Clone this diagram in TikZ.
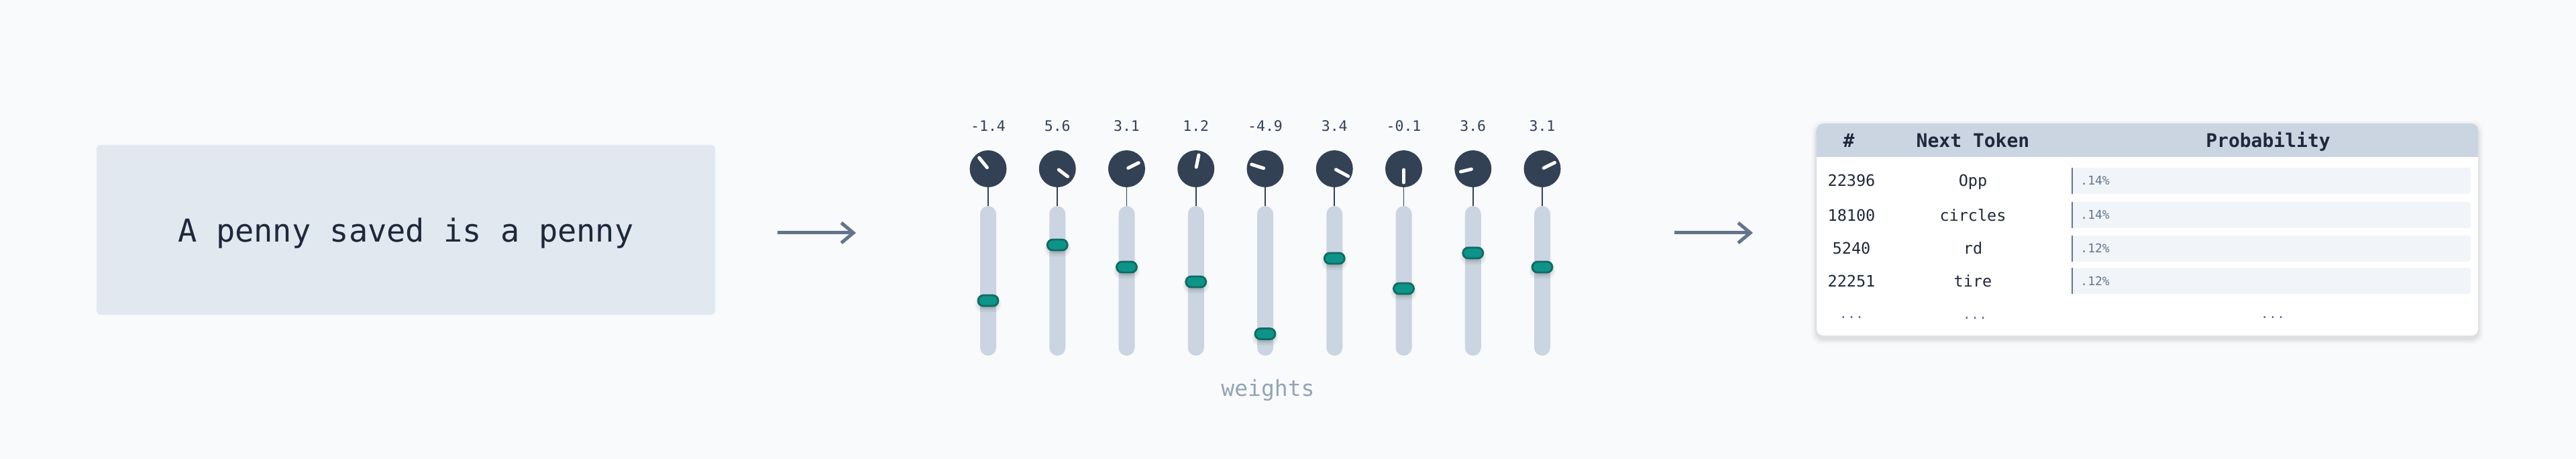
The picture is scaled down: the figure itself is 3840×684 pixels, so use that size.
\documentclass[tikz,border=0pt]{standalone}
\usepackage{fontspec}
\setmonofont{DejaVu Sans Mono}
\usetikzlibrary{arrows.meta}
\definecolor{bgc}{HTML}{F8FAFC}
\definecolor{boxc}{HTML}{E2E8F0}
\definecolor{knobc}{HTML}{334155}
\definecolor{trackc}{HTML}{CBD5E1}
\definecolor{tealc}{HTML}{0D9488}
\definecolor{tealdark}{HTML}{0F6B63}
\definecolor{arrowc}{HTML}{64748B}
\definecolor{inkc}{HTML}{1E293B}
\definecolor{mutedc}{HTML}{94A3B8}
\definecolor{barc}{HTML}{F1F5F9}
\newcommand\myfs[1]{\fontsize{#1}{#1}\selectfont}
\tikzset{
  txt/.style={inner sep=0pt, anchor=base, font=\ttfamily},
  inputbox/.style={fill=boxc, rounded corners=2.5pt, minimum width=461pt, minimum height=126.5pt, inner sep=0pt},
  knob/.style={circle, fill=knobc, minimum size=27.5pt, inner sep=0pt},
  track/.style={fill=trackc, rounded corners=6pt, minimum width=12pt, minimum height=111.5pt, inner sep=0pt},
  handle/.style={fill=tealc, draw=tealdark, line width=1.4pt, rounded corners=4pt, minimum width=15pt, minimum height=8pt, inner sep=0pt},
  tick/.style={white, line width=2.5pt, line cap=round},
  stem/.style={knobc, line width=0.8pt},
  flow/.style={arrowc, line width=2.5pt, -{Straight Barb[length=9pt,width=15pt]}},
  bar/.style={fill=barc, rounded corners=2pt, minimum width=297pt, minimum height=19.5pt, inner sep=0pt, anchor=west},
  barline/.style={arrowc, line width=0.6pt},
  tablebox/.style={fill=white, rounded corners=5pt, minimum width=493pt, minimum height=158pt, inner sep=0pt},
}
\begin{document}
\begin{tikzpicture}[x=0.5pt,y=-0.5pt]
\useasboundingbox (0,0) rectangle (3840,684);
\fill[bgc] (0,0) rectangle (3840,684);

% input box
\node[inputbox] (input) at (605,342.5) {};
\node[txt, text=inkc, font=\ttfamily\myfs{23.5pt}] (inputtext) at (605,360) {A penny saved is a penny};

% arrows
\coordinate (a1s) at (1159,347);
\coordinate (a1e) at (1276,347);
\draw[flow] (a1s) -- (a1e);
\coordinate (a2s) at (2496,347);
\coordinate (a2e) at (2613,347);
\draw[flow] (a2s) -- (a2e);

% sliders
\foreach \i/\v/\hy/\sx/\sy/\ex/\ey in {
  0/-1.4/448/-1.6/-1.9/-13.4/-16.4,
  1/5.6/365/2/1.5/15.3/11.5,
  2/3.1/398/2.2/-1.1/17.8/-8.9,
  3/1.2/420/0.5/-2.5/4.2/-20.5,
  4/-4.9/497.5/-2.4/-0.8/-20.3/-6.5,
  5/3.4/385/2.2/1.2/20.5/11.1,
  6/-0.1/430/0/1.5/0/20.5,
  7/3.6/377/-2.4/0.6/-18.3/4.4,
  8/3.1/398/2.2/-1.1/18.5/-9.2}{
  \pgfmathsetmacro{\kx}{1473+103.25*\i}
  \node[txt, text=knobc, font=\ttfamily\myfs{10.75pt}] (lab\i) at (\kx,196) {\v};
  \node[knob] (knob\i) at (\kx,251.5) {};
  \draw[tick] ([shift={(\sx,\sy)}]knob\i.center) -- ([shift={(\ex,\ey)}]knob\i.center);
  \node[track] (track\i) at (\kx,418.5) {};
  \draw[stem] (knob\i.south) -- (track\i.north);
  \fill[black, opacity=0.05, rounded corners=5pt] (\kx-19,\hy-6) rectangle (\kx+19,\hy+17);
  \fill[black, opacity=0.06, rounded corners=5pt] (\kx-17,\hy-4) rectangle (\kx+17,\hy+14);
  \fill[black, opacity=0.07, rounded corners=5pt] (\kx-15,\hy-2) rectangle (\kx+15,\hy+12);
  \node[handle] (handle\i) at (\kx,\hy) {};
}
\node[txt, text=mutedc, font=\ttfamily\myfs{16.5pt}] (weights) at (1890,590) {weights};

% table shadow
\foreach \d/\o in {8/0.015,6/0.02,4/0.03,2/0.04}{
  \fill[black, opacity=\o, rounded corners=7pt] (2708-\d,184-\d+4) rectangle (3694+\d,500+\d+5);
}
\node[tablebox] (tbl) at (3201,342) {};
\begin{scope}
  \clip[rounded corners=5pt] (2708,184) rectangle (3694,500);
  \fill[trackc] (2708,184) rectangle (3694,234);
\end{scope}
\node[txt, text=inkc, font=\ttfamily\bfseries\myfs{14pt}] (h1) at (2756,220) {\#};
\node[txt, text=inkc, font=\ttfamily\bfseries\myfs{14pt}] (h2) at (2941,220) {Next Token};
\node[txt, text=inkc, font=\ttfamily\bfseries\myfs{14pt}] (h3) at (3381,220) {Probability};

\foreach \r/\num/\tok/\pr/\cy in {1/22396/Opp/.14\%/269.5, 2/18100/circles/.14\%/320.5, 3/5240/rd/.12\%/370.5, 4/22251/tire/.12\%/418.5}{
  \node[txt, text=inkc, font=\ttfamily\myfs{11.75pt}] (num\r) at (2760,\cy+8.5) {\num};
  \node[txt, text=inkc, font=\ttfamily\myfs{11.75pt}] (tok\r) at (2941,\cy+8.5) {\tok};
  \node[bar] (bar\r) at (3089,\cy) {};
  \draw[barline] (bar\r.north west) -- (bar\r.south west);
  \node[txt, anchor=base west, text=arrowc, font=\ttfamily\myfs{9pt}] (pr\r) at (3101,\cy+6.5) {\pr};
}
\node[txt, text=arrowc, font=\ttfamily\myfs{10pt}] (d1) at (2760,474) {...};
\node[txt, text=arrowc, font=\ttfamily\myfs{10pt}] (d2) at (2944,475) {...};
\node[txt, text=arrowc, font=\ttfamily\myfs{10pt}] (d3) at (3388,474) {...};
\end{tikzpicture}
\end{document}
